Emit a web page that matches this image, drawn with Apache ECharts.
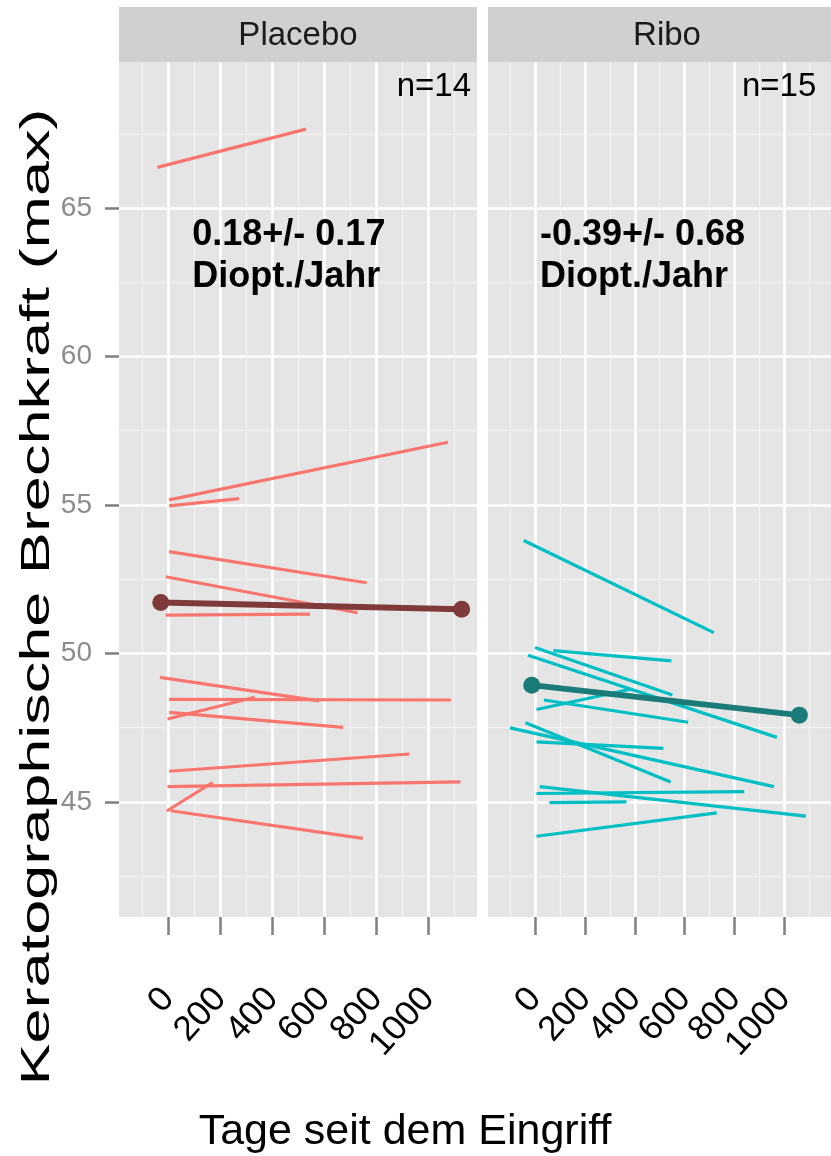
<!DOCTYPE html>
<html><head><meta charset="utf-8">
<script src="https://cdn.jsdelivr.net/npm/echarts@6/dist/echarts.min.js"></script>
<style>html,body{margin:0;padding:0;background:#fff}#c{width:831px;height:1156px}</style>
</head><body><div id="c"></div>
<script>
// ---- data ----
const panels = ['Placebo', 'Ribo'];
const panelN = ['n=14', 'n=15'];
const slopeText = ['0.18+/- 0.17\nDiopt./Jahr', '-0.39+/- 0.68\nDiopt./Jahr'];
const xTicks = [0, 200, 400, 600, 800, 1000];
const xMinorTicks = [-100, 100, 300, 500, 700, 900, 1100];
const yTicks = [45, 50, 55, 60, 65];
const yMinorTicks = [42.5, 47.5, 52.5, 57.5, 62.5, 67.5];
const xTitle = 'Tage seit dem Eingriff';
const yTitle = 'Keratographische Brechkraft (max)';

// Placebo: each patient first / last visit (day, value)
const placeboDay0 = [-41, 4, 4, 4, -9, -9, -31, 4, -2, 4, 4, -2, -5, 10];
const placeboVal0 = [66.37, 55.17, 54.97, 53.43, 52.58, 51.29, 49.19, 48.45, 47.79, 48.01, 46.03, 45.51, 44.69, 44.70];
const placeboDay1 = [530, 1075, 273, 763, 728, 545, 580, 1087, 333, 673, 927, 1123, 171, 748];
const placeboVal1 = [67.66, 57.11, 55.21, 52.38, 51.37, 51.32, 48.40, 48.43, 48.52, 47.51, 46.61, 45.67, 45.65, 43.77];
const placeboMeanDay = [-28, 1128];
const placeboMeanVal = [51.71, 51.49];

// Ribo
const riboDay0 = [-45, 74, 0, -28, 6, 36, -100, -38, 6, 19, 6, 58, 6];
const riboVal0 = [53.80, 50.09, 50.20, 49.94, 48.11, 48.43, 47.49, 47.66, 47.02, 45.51, 45.28, 44.97, 43.84];
const riboDay1 = [717, 547, 551, 970, 383, 614, 958, 544, 515, 1086, 839, 367, 729];
const riboVal1 = [50.70, 49.75, 48.60, 47.17, 48.79, 47.68, 45.51, 45.67, 46.80, 44.52, 45.34, 45.00, 44.63];
const riboMeanDay = [-13, 1060];
const riboMeanVal = [48.93, 47.92];

// annotation anchors (data coordinates)
const slopeAnchorDay = [93, 20];
const slopeAnchorVal = [63.38, 63.38];
const nAnchorDay = [1164, 1128];
const nAnchorVal = [69.08, 69.08];

// ---- chart ----
const X_MIN = -188.5, X_MAX = 1187;
const Y_MIN = 41.12, Y_MAX = 69.92;
const FF = '"Liberation Sans", Arial, Helvetica, sans-serif';
const lineColors = ['#F8766D', '#00BFC4'];
const meanColors = ['#7E3B3A', '#1B7B79'];

const chart = echarts.init(document.getElementById('c'), null, {renderer: 'canvas'});

const grids = [
  {left: 119, top: 62, width: 358, height: 855},
  {left: 488, top: 62, width: 358, height: 855}
].map(g => Object.assign(g, {show: true, backgroundColor: '#E5E5E5', borderWidth: 0}));

const xAxis = [], yAxis = [];
[0, 1].forEach(g => {
  xAxis.push({gridIndex: g, type: 'value', min: X_MIN, max: X_MAX, position: 'top',
    axisLine: {show: false, onZero: false}, axisTick: {show: false, customValues: xMinorTicks},
    axisLabel: {show: false}, splitLine: {show: true, lineStyle: {color: '#F2F2F2', width: 1.3}}});
  xAxis.push({gridIndex: g, type: 'value', min: X_MIN, max: X_MAX, position: 'bottom',
    axisLine: {show: false, onZero: false},
    axisTick: {show: true, customValues: xTicks, length: 18, lineStyle: {color: '#7F7F7F', width: 2.5}},
    axisLabel: {show: true, customValues: xTicks, rotate: 48, margin: 76, fontSize: 35, color: '#000', fontFamily: FF,
      formatter: v => String(v)},
    splitLine: {show: true, lineStyle: {color: '#FFFFFF', width: 2.6}}});
  yAxis.push({gridIndex: g, type: 'value', min: Y_MIN, max: Y_MAX, position: 'right',
    axisLine: {show: false, onZero: false}, axisTick: {show: false, customValues: yMinorTicks},
    axisLabel: {show: false}, splitLine: {show: true, lineStyle: {color: '#F2F2F2', width: 1.3}}});
  yAxis.push({gridIndex: g, type: 'value', min: Y_MIN, max: Y_MAX, position: 'left',
    axisLine: {show: false, onZero: false},
    axisTick: {show: g === 0, customValues: yTicks, length: 14, lineStyle: {color: '#7F7F7F', width: 2.5}},
    axisLabel: {show: g === 0, customValues: yTicks, margin: 27, fontSize: 28, color: '#8C8C8C', fontFamily: FF,
      formatter: v => String(v)},
    splitLine: {show: true, lineStyle: {color: '#FFFFFF', width: 2.6}}});
});

const series = [];
function addPanel(g, d0, v0, d1, v1, md, mv) {
  for (let i = 0; i < d0.length; i++) {
    series.push({type: 'line', xAxisIndex: 2 * g + 1, yAxisIndex: 2 * g + 1,
      data: [[d0[i], v0[i]], [d1[i], v1[i]]], symbol: 'none', silent: true, z: 3,
      lineStyle: {color: lineColors[g], width: 3.2}});
  }
  series.push({type: 'line', xAxisIndex: 2 * g + 1, yAxisIndex: 2 * g + 1,
    data: md.map((d, i) => [d, mv[i]]), symbol: 'circle', symbolSize: 17, showSymbol: true,
    itemStyle: {color: meanColors[g]}, lineStyle: {color: meanColors[g], width: 6}, z: 5, silent: true});
  series.push({type: 'scatter', xAxisIndex: 2 * g + 1, yAxisIndex: 2 * g + 1, symbolSize: 0, silent: true, z: 6,
    itemStyle: {opacity: 1},
    data: [[slopeAnchorDay[g], slopeAnchorVal[g]]],
    label: {show: true, position: [0, 0], align: 'left', verticalAlign: 'middle', formatter: slopeText[g],
      fontSize: 36, fontWeight: 'bold', lineHeight: 42, color: '#000000', opacity: 1, fontFamily: FF}});
  series.push({type: 'scatter', xAxisIndex: 2 * g + 1, yAxisIndex: 2 * g + 1, symbolSize: 0, silent: true, z: 6,
    itemStyle: {opacity: 1},
    data: [[nAnchorDay[g], nAnchorVal[g]]],
    label: {show: true, position: [0, 0], align: 'right', verticalAlign: 'middle', formatter: panelN[g],
      fontSize: 33, color: '#000000', opacity: 1, fontFamily: FF}});
}
addPanel(0, placeboDay0, placeboVal0, placeboDay1, placeboVal1, placeboMeanDay, placeboMeanVal);
addPanel(1, riboDay0, riboVal0, riboDay1, riboVal1, riboMeanDay, riboMeanVal);

const graphic = [];
grids.forEach((g, i) => {
  graphic.push({type: 'rect', shape: {x: g.left, y: 7, width: g.width, height: 55}, style: {fill: '#D0D0D0'}, silent: true});
  graphic.push({type: 'text', x: g.left + g.width / 2, y: 36, silent: true,
    style: {text: panels[i], font: '33px ' + FF, fill: '#1A1A1A', textAlign: 'center', textVerticalAlign: 'middle'}});
});
graphic.push({type: 'text', x: 405, y: 1132, silent: true,
  style: {text: xTitle, font: '43px ' + FF, fill: '#000', textAlign: 'center', textVerticalAlign: 'middle'}});
graphic.push({type: 'text', x: 38, y: 597, rotation: Math.PI / 2, scaleX: 1.575, silent: true,
  style: {text: yTitle, font: '40px ' + FF, fill: '#000', textAlign: 'center', textVerticalAlign: 'middle'}});

chart.setOption({
  backgroundColor: '#FFFFFF',
  animation: false,
  grid: grids,
  xAxis: xAxis,
  yAxis: yAxis,
  series: series,
  graphic: graphic
});
</script></body></html>
